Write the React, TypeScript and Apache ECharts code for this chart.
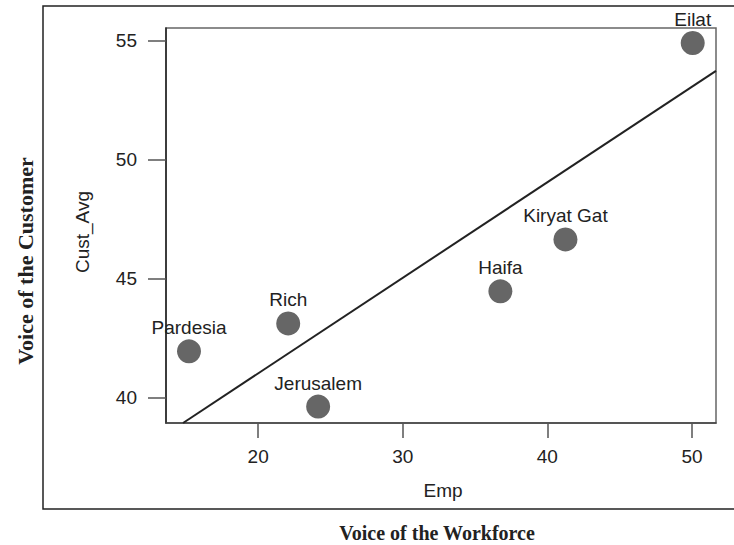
import React, { useEffect, useRef } from "react";
import * as echarts from "echarts";

const cityNames = ["Pardesia", "Rich", "Jerusalem", "Haifa", "Kiryat Gat", "Eilat"];
const empValues = [15.22, 22.08, 24.15, 36.75, 41.25, 50.05];
const custValues = [41.95, 43.12, 39.63, 44.47, 46.65, 54.9];
const fitLine = [
  [14.81, 38.94],
  [51.66, 53.73],
];
const xTicks = [20, 30, 40, 50];
const yTicks = [40, 45, 50, 55];
const xTitle = "Emp";
const yTitle = "Cust_Avg";
const outerXTitle = "Voice of the Workforce";
const outerYTitle = "Voice of the Customer";

export default function App() {
  const ref = useRef<HTMLDivElement>(null);
  useEffect(() => {
    if (!ref.current) return;
    const chart = echarts.init(ref.current, null, { renderer: "svg" });
    const sans = "'Liberation Sans', Arial, sans-serif";
    const serif = "'Liberation Serif', 'Times New Roman', serif";
    chart.setOption({
      animation: false,
      backgroundColor: "#fff",
      grid: {
        left: 166,
        top: 28,
        right: 18,
        bottom: 122,
        show: true,
        borderColor: "#666",
        borderWidth: 1.5,
      },
      xAxis: {
        type: "value",
        min: 13.63,
        max: 51.66,
        splitLine: { show: false },
        axisLine: { lineStyle: { color: "#444", width: 1.5 } },
        axisTick: { show: true, length: 15, customValues: xTicks, lineStyle: { color: "#555", width: 1.5 } },
        axisLabel: { customValues: xTicks, margin: 24, fontSize: 19, color: "#222", fontFamily: sans },
      },
      yAxis: {
        type: "value",
        min: 38.94,
        max: 55.53,
        splitLine: { show: false },
        axisLine: { lineStyle: { color: "#222", width: 1.5 } },
        axisTick: { show: true, length: 18, customValues: yTicks, lineStyle: { color: "#555", width: 1.5 } },
        axisLabel: { customValues: yTicks, margin: 29, fontSize: 19, color: "#222", fontFamily: sans },
      },
      graphic: [
        {
          type: "polyline",
          shape: { points: [[745, 6], [43, 6], [43, 509], [745, 509]] },
          style: { stroke: "#222", lineWidth: 1.5, fill: "none" },
          silent: true,
        },
        {
          type: "text",
          x: 443,
          y: 490,
          style: {
            text: xTitle,
            font: `19px ${sans}`,
            fill: "#222",
            align: "center",
            verticalAlign: "middle",
          },
        },
        {
          type: "text",
          x: 82,
          y: 232,
          rotation: Math.PI / 2,
          style: {
            text: yTitle,
            font: `19px ${sans}`,
            fill: "#222",
            align: "center",
            verticalAlign: "middle",
          },
        },
        {
          type: "text",
          x: 437,
          y: 533,
          style: {
            text: outerXTitle,
            font: `bold 20px ${serif}`,
            fill: "#222",
            align: "center",
            verticalAlign: "middle",
          },
        },
        {
          type: "text",
          x: 25,
          y: 261,
          rotation: Math.PI / 2,
          style: {
            text: outerYTitle,
            font: `bold 22px ${serif}`,
            fill: "#222",
            align: "center",
            verticalAlign: "middle",
          },
        },
      ],
      series: [
        {
          type: "line",
          data: fitLine,
          showSymbol: false,
          symbol: "none",
          lineStyle: { color: "#222", width: 2 },
          clip: true,
          z: 2,
        },
        {
          type: "scatter",
          data: empValues.map((x, i) => ({ value: [x, custValues[i]], name: cityNames[i] })),
          symbol: "circle",
          symbolSize: 24,
          itemStyle: { color: "#666", opacity: 1 },
          clip: false,
          label: {
            show: true,
            position: "top",
            distance: 2,
            formatter: (p: any) => p.name,
            fontSize: 19,
            color: "#222",
            fontFamily: sans,
          },
          z: 3,
        },
      ],
    });
    return () => chart.dispose();
  }, []);
  return (
    <div
      ref={ref}
      style={{ position: "fixed", left: 0, top: 0, width: 734, height: 545, background: "#fff" }}
    />
  );
}
